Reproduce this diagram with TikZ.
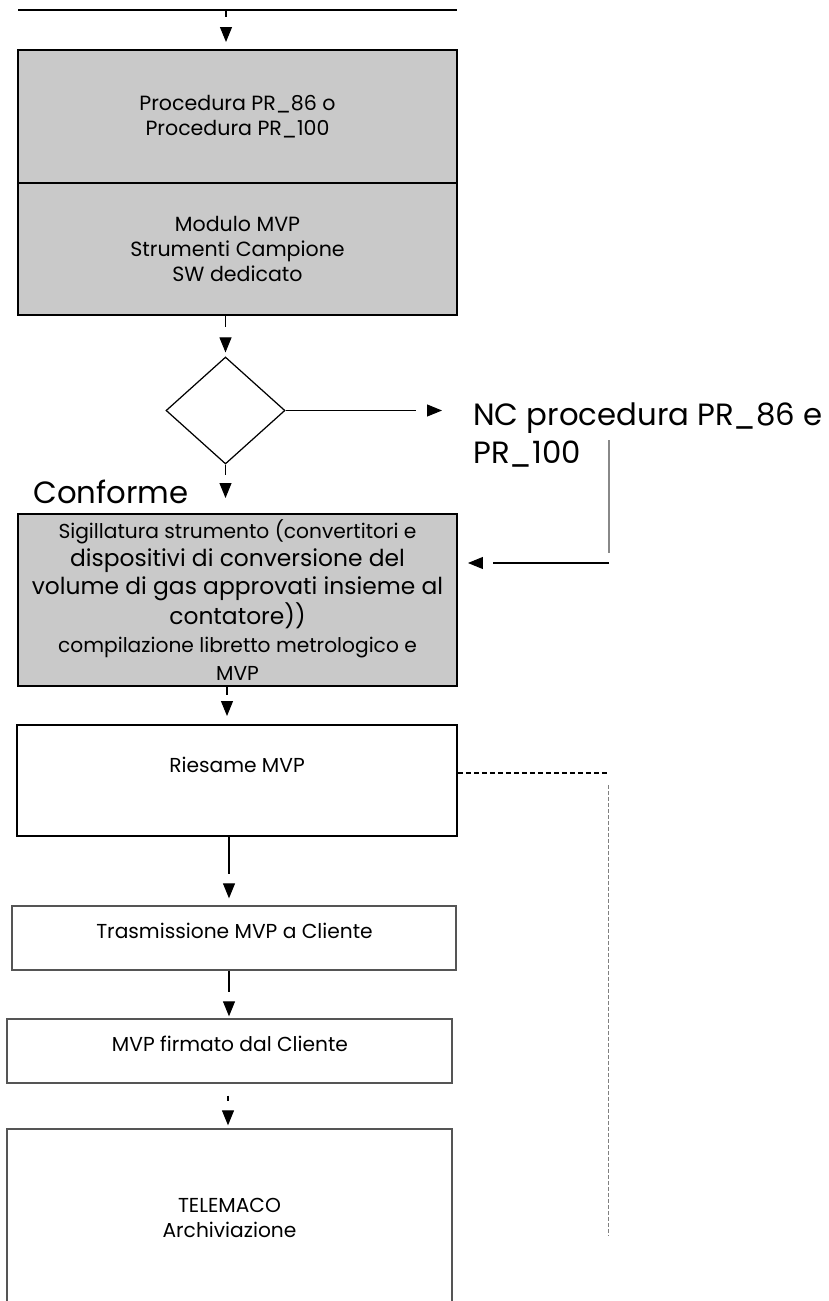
\documentclass[tikz,border=0pt]{standalone}
\usepackage{fontspec}
\setmainfont{Poppins}
\usetikzlibrary{shapes.geometric, positioning, arrows.meta}
\definecolor{BoxGray}{HTML}{C9C9C9}
\definecolor{LineGray}{HTML}{555555}

\begin{document}
\begin{tikzpicture}[x=0.02cm, y=-0.02cm,
            thickbox/.style={draw, line width=1.15pt, minimum width=8.78cm, align=center, font=\fontsize{11.7}{14.5}\selectfont},
            graybox/.style={thickbox, fill=BoxGray},
            thinbox/.style={draw=LineGray, line width=0.8pt, align=center, font=\fontsize{11.5}{14.5}\selectfont},
            txt/.style={inner sep=0pt, font=\fontsize{11.5}{14.5}\selectfont},
            bigtxt/.style={inner sep=0pt, font=\fontsize{17.5}{21.5}\selectfont},
            nctxt/.style={inner sep=0pt, align=left, font=\fontsize{17.5}{21.5}\selectfont},
            dec/.style={diamond, draw, line width=0.7pt, minimum width=2.38cm, minimum height=2.14cm, inner sep=0pt},
            flow/.style={-{Triangle[length=0.3cm, width=0.24cm]}, line width=0.6pt}
        ]
            \useasboundingbox (0,0) rectangle (828,1301);

            % Header line
            \coordinate (topL) at (18,10);
            \coordinate (topR) at (457,10);
            \coordinate (start) at (226,10);
            \draw[line width=1.15pt] (topL) -- (topR);

            % Procedure and tools
            \node[graybox, minimum height=2.66cm] (proc) at (237.5,116.5) {Procedura PR\_86 o\\Procedura PR\_100};
            \node[graybox, minimum height=2.64cm] (tools) at (237.5,249) {Modulo MVP\\Strumenti Campione\\SW dedicato};

            % Check
            \node[dec] (check) at (225.5,410.5) {};
            \node[bigtxt, anchor=base west] (ok) at (33,503) {Conforme};
            \node[nctxt, anchor=base west] (nc) at (473,463) {NC procedura PR\_86 e\\PR\_100};

            % Sealing
            \node[graybox, inner sep=1pt, minimum height=3.44cm, font=\fontsize{13.3}{15.9}\selectfont] (seal) at (237.5,600) {%
                {\fontsize{11.5}{15.9}\selectfont Sigillatura strumento (convertitori e}\\
                dispositivi di conversione del\\
                volume di gas approvati insieme al\\
                contatore))\\
                {\fontsize{11.5}{15.9}\selectfont compilazione libretto metrologico e}\\
                {\fontsize{11.5}{15.9}\selectfont MVP}};

            % Review, sending, archive
            \node[thickbox, minimum width=8.8cm, minimum height=2.22cm] (review) at (237,780.5) {};
            \node[txt, anchor=base] (reviewtxt) at (237,772) {Riesame MVP};
            \node[thinbox, minimum width=8.88cm, minimum height=1.28cm] (send) at (234,938) {};
            \node[txt, anchor=base] (sendtxt) at (234.5,938) {Trasmissione MVP a Cliente};
            \node[thinbox, minimum width=8.9cm, minimum height=1.28cm] (signed) at (229.5,1051) {};
            \node[txt, anchor=base] (signedtxt) at (230,1051) {MVP firmato dal Cliente};
            \node[thinbox, minimum width=8.9cm, minimum height=3.56cm] (archive) at (229.5,1218) {TELEMACO\\Archiviazione};

            % Arrows
            \draw[flow, dash pattern=on 0.14cm off 5cm, shorten >=0.14cm] (start) -- (start |- proc.north);
            \draw[flow, dash pattern=on 0.22cm off 5cm, shorten >=0.08cm] (check.north |- tools.south) -- (check.north);
            \draw[flow, dash pattern=on 0.2cm off 5cm, shorten >=0.3cm] (check.south) -- (check.south |- seal.north);
            \draw[flow, dash pattern=on 0.16cm off 5cm, shorten >=0.16cm] ([xshift=-0.21cm]seal.south) -- ([xshift=-0.21cm]seal.south |- review.north);
            \draw[flow, dash pattern=on 0.74cm off 5cm, shorten >=0.14cm] ([xshift=-0.16cm]review.south) -- ([xshift=-0.16cm]review.south |- send.north);
            \draw[flow, dash pattern=on 0.42cm off 5cm, shorten >=0.04cm] ([xshift=-0.1cm]send.south) -- ([xshift=-0.1cm]send.south |- signed.north);
            \draw[flow, dash pattern=on 0cm off 0.24cm on 0.1cm off 5cm, shorten >=0.06cm] ([xshift=-0.03cm]signed.south) -- ([xshift=-0.03cm]signed.south |- archive.north);

            % Non conformity loop
            \draw[flow, dash pattern=on 2.6cm off 5cm, shorten >=0.62cm] (check.east) -- (check.east -| nc.west);
            \coordinate (ncdrop) at (609,440);
            \coordinate (ncbend) at (609,563);
            \draw[line width=0.6pt, LineGray!70, shorten >=0.2cm] (ncdrop) -- (ncbend);
            \draw[flow, dash pattern=on 2.32cm off 5cm, shorten >=0.2cm] (ncbend) -- (ncbend -| seal.east);

            % Review link
            \coordinate (revbend) at (608,773);
            \coordinate (revend) at (608,1236);
            \draw[line width=0.85pt, dash pattern=on 0.11cm off 0.05cm] (revbend -| review.east) -- (revbend);
            \draw[gray, line width=0.5pt, dash pattern=on 0.08cm off 0.04cm, shorten <=0.24cm] (revbend) -- (revend);
        \end{tikzpicture}
\end{document}
